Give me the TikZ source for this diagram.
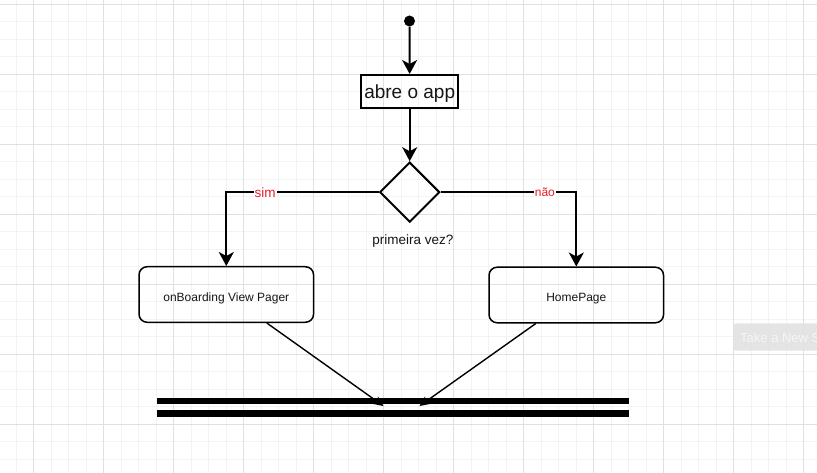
\documentclass[tikz,border=0pt]{standalone}
\usepackage{fontspec}
\setmainfont{Liberation Sans}
\usetikzlibrary{arrows.meta,shapes.geometric,calc}
\definecolor{gridmajor}{RGB}{224,224,224}
\definecolor{gridminor}{RGB}{243,243,243}
\definecolor{labelred}{RGB}{232,30,38}
\definecolor{ink}{RGB}{22,22,22}
\definecolor{ghostfill}{RGB}{226,226,226}
\definecolor{ghosttext}{RGB}{246,246,246}
% text lowered inside a fixed-size box without changing the box
\newcommand{\lowered}[2]{\raisebox{-#1}[0pt][0pt]{#2}}
\begin{document}
\begin{tikzpicture}[x=1pt,y=-1pt,
  flow/.style={line width=2pt, draw=black,
    -{Stealth[length=14pt,width=15pt,inset=4pt]}},
  thinflow/.style={line width=1.4pt, draw=black,
    -{Stealth[length=10pt,width=9pt,inset=3pt]}},
  actionbox/.style={draw=black, line width=2pt, inner sep=0pt,
    minimum width=97pt, minimum height=33pt, text=ink,
    font=\fontsize{19}{22}\selectfont},
  roundbox/.style={draw=black, line width=1.5pt, rounded corners=8pt,
    inner sep=0pt, minimum width=174.5pt, minimum height=55.5pt,
    text=ink, font=\fontsize{12}{14}\selectfont},
  decision/.style={diamond, draw=black, line width=2pt, inner sep=0pt,
    minimum width=60pt, minimum height=60pt, aspect=1},
  branchlabel/.style={fill=white, inner sep=1pt, text=labelred},
  syncbar/.style={fill=black, inner sep=0pt, minimum width=472.3pt}
]
\useasboundingbox (0,0) rectangle (817,473);
\clip (0,0) rectangle (817,473);
\fill[white] (0,0) rectangle (817,473);

% background grid: fine lines every 17.5, heavier every 70
\foreach \x in {-1.5,16,...,820} \draw[gridminor, line width=1pt] (\x,0) -- (\x,473);
\foreach \y in {4.3,21.8,...,475} \draw[gridminor, line width=1pt] (0,\y) -- (817,\y);
\foreach \x in {33.5,103.5,...,820} \draw[gridmajor, line width=1pt] (\x,0) -- (\x,473);
\foreach \y in {4.3,74.3,...,475} \draw[gridmajor, line width=1pt] (0,\y) -- (817,\y);

% nodes
\node[circle, fill=black, inner sep=0pt, minimum size=11pt] (start) at (409.5,21) {};
\node[actionbox] (open) at (409.7,91.5) {\lowered{7pt}{abre o app}};
\node[decision] (first) at (409.7,192.2) {};
\node[text=ink, font=\fontsize{13.5}{16}\selectfont] (firstlbl) at (413,241) {primeira vez?};
\node[roundbox] (onboard) at (226.3,294.5) {\lowered{7pt}{onBoarding View Pager}};
\node[roundbox] (home) at (576.3,295) {\lowered{6.7pt}{HomePage}};
\node[syncbar, minimum height=6.6pt] (barA) at (392.85,401) {};
\node[syncbar, minimum height=7pt] (barB) at (392.85,413.5) {};
\coordinate (joinL) at (383.5,406);
\coordinate (joinR) at (419.5,406);

% connectors
\draw[flow] (start) -- (open);
\draw[flow] (open) -- (first);
\draw[flow] (first.west) -| (onboard.north)
  node[branchlabel, pos=0.373, font=\fontsize{13.5}{16}\selectfont] {sim};
\draw[flow] (first.east) -| (home.north)
  node[branchlabel, pos=0.384, font=\fontsize{12}{14}\selectfont] {não};
\draw[thinflow] ($(onboard.south west)!0.73!(onboard.south east)$) -- (joinL);
\draw[thinflow] ($(home.south west)!0.27!(home.south east)$) -- (joinR);

% floating button at the right edge, running off the page
\fill[ghostfill, opacity=0.92, rounded corners=3pt] (733,323.3) rectangle (830,350.7);
\node[anchor=base west, text=ghosttext, font=\fontsize{13}{15}\selectfont, inner sep=0pt]
  (snap) at (740,342.5) {Take a New S};
\end{tikzpicture}
\end{document}
